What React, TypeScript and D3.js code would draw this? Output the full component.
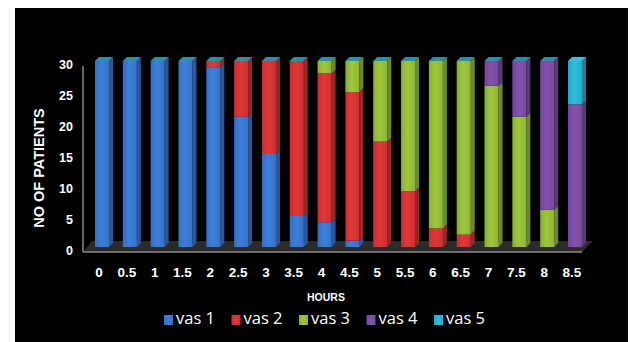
import React from 'react';
import * as d3 from 'd3';

// hours on the x axis
const hours = ['0', '0.5', '1', '1.5', '2', '2.5', '3', '3.5', '4', '4.5', '5', '5.5', '6', '6.5', '7', '7.5', '8', '8.5'];
const seriesNames = ['vas 1', 'vas 2', 'vas 3', 'vas 4', 'vas 5'];
const vas1 = [30, 30, 30, 30, 29, 21, 15, 5, 4, 1, 0, 0, 0, 0, 0, 0, 0, 0];
const vas2 = [0, 0, 0, 0, 1, 9, 15, 25, 24, 24, 17, 9, 3, 2, 0, 0, 0, 0];
const vas3 = [0, 0, 0, 0, 0, 0, 0, 0, 2, 5, 13, 21, 27, 28, 26, 21, 6, 0];
const vas4 = [0, 0, 0, 0, 0, 0, 0, 0, 0, 0, 0, 0, 0, 0, 4, 9, 24, 23];
const vas5 = [0, 0, 0, 0, 0, 0, 0, 0, 0, 0, 0, 0, 0, 0, 0, 0, 0, 7];
const yTicks = [0, 5, 10, 15, 20, 25, 30];

const colors = ['#3a78d2', '#d63434', '#96be3a', '#7d4ea6', '#2bb3d6'];

const W = 633;
const H = 342;
const barW = 14;
const dx = 4;
const dy = 4;

export default function App() {
  const table = hours.map((h, i) => ({
    hour: h,
    'vas 1': vas1[i],
    'vas 2': vas2[i],
    'vas 3': vas3[i],
    'vas 4': vas4[i],
    'vas 5': vas5[i],
  }));
  const stacked = d3.stack<any>().keys(seriesNames)(table);

  const x = d3.scalePoint<string>().domain(hours).range([102, 575]);
  const y = d3.scaleLinear().domain([0, 30]).range([247, 61]);

  const shade = (c: string, k: number) => d3.color(c)!.darker(k).formatHex();

  return (
    <svg width={W} height={H} style={{ position: 'absolute', left: 0, top: 0, background: '#fff' }}>
      <defs>
        {colors.map((c, i) => (
          <linearGradient key={i} id={'g' + i} x1="0" x2="1" y1="0" y2="0">
            <stop offset="0" stopColor={shade(c, 0.25)} />
            <stop offset="0.45" stopColor={d3.color(c)!.brighter(0.15).formatHex()} />
            <stop offset="1" stopColor={shade(c, 0.15)} />
          </linearGradient>
        ))}
      </defs>
      <rect x={15} y={8} width={613} height={334} fill="#000" />

      {/* floor */}
      <path d={`M83,252 L92,241 L593,241 L582,252 Z`} fill="#2b2b2b" />
      <line x1={83} x2={582} y1={252} y2={252} stroke="#8a8a8a" strokeWidth={1.5} />
      <line x1={83} x2={83} y1={66} y2={252} stroke="#8a8a8a" strokeWidth={1.5} />

      {/* bars */}
      {hours.map((h, i) => {
        const x0 = x(h)! - barW / 2;
        const segs = stacked.map((s, k) => ({ k, y0: s[i][0], y1: s[i][1] })).filter(d => d.y1 > d.y0);
        const top = segs[segs.length - 1];
        const capColor = top.k === 4 ? '#3bbbe0' : '#2c8fa8';
        const yt = y(top.y1);
        return (
          <g key={h}>
            {segs.map(d => (
              <g key={d.k}>
                <path
                  d={`M${x0 + barW},${y(d.y0)} L${x0 + barW + dx},${y(d.y0) - dy} L${x0 + barW + dx},${y(d.y1) - dy} L${x0 + barW},${y(d.y1)} Z`}
                  fill={shade(colors[d.k], 0.9)}
                />
                <rect x={x0} y={y(d.y1)} width={barW} height={y(d.y0) - y(d.y1)} fill={`url(#g${d.k})`} />
              </g>
            ))}
            <path
              d={`M${x0},${yt} L${x0 + dx},${yt - dy} L${x0 + barW + dx},${yt - dy} L${x0 + barW},${yt} Z`}
              fill={capColor}
            />
          </g>
        );
      })}

      {/* y ticks */}
      {yTicks.map(t => (
        <text key={t} x={73} y={y(t) + 5} textAnchor="end" dominantBaseline="middle" fill="#fff"
          fontFamily="Liberation Sans, Arial, sans-serif" fontSize={12.5} fontWeight="bold">
          {t}
        </text>
      ))}
      <text transform={`translate(40,168) rotate(-90)`} textAnchor="middle" dominantBaseline="middle" fill="#fff"
        fontFamily="Liberation Sans, Arial, sans-serif" fontSize={14.5} fontWeight="bold">
        NO OF PATIENTS
      </text>

      {/* x ticks */}
      {hours.map(h => (
        <text key={h} x={x(h)! - 3} y={273} textAnchor="middle" dominantBaseline="middle" fill="#fff"
          fontFamily="Liberation Sans, Arial, sans-serif" fontSize={13.5} fontWeight="bold">
          {h}
        </text>
      ))}
      <text x={326} y={298} textAnchor="middle" dominantBaseline="middle" fill="#fff"
        fontFamily="Liberation Sans Narrow, Liberation Sans, Arial, sans-serif" fontSize={10.5} fontWeight="bold">
        HOURS
      </text>

      {/* legend */}
      {seriesNames.map((n, i) => {
        const lx = 164 + i * 67.5;
        return (
          <g key={n}>
            <rect x={lx} y={315} width={9} height={10} fill={`url(#g${i})`} />
            <text x={lx + 12} y={320} dominantBaseline="middle" fill="#fff"
              fontFamily="Open Sans, sans-serif" fontSize={16.5}>
              {n}
            </text>
          </g>
        );
      })}
    </svg>
  );
}
